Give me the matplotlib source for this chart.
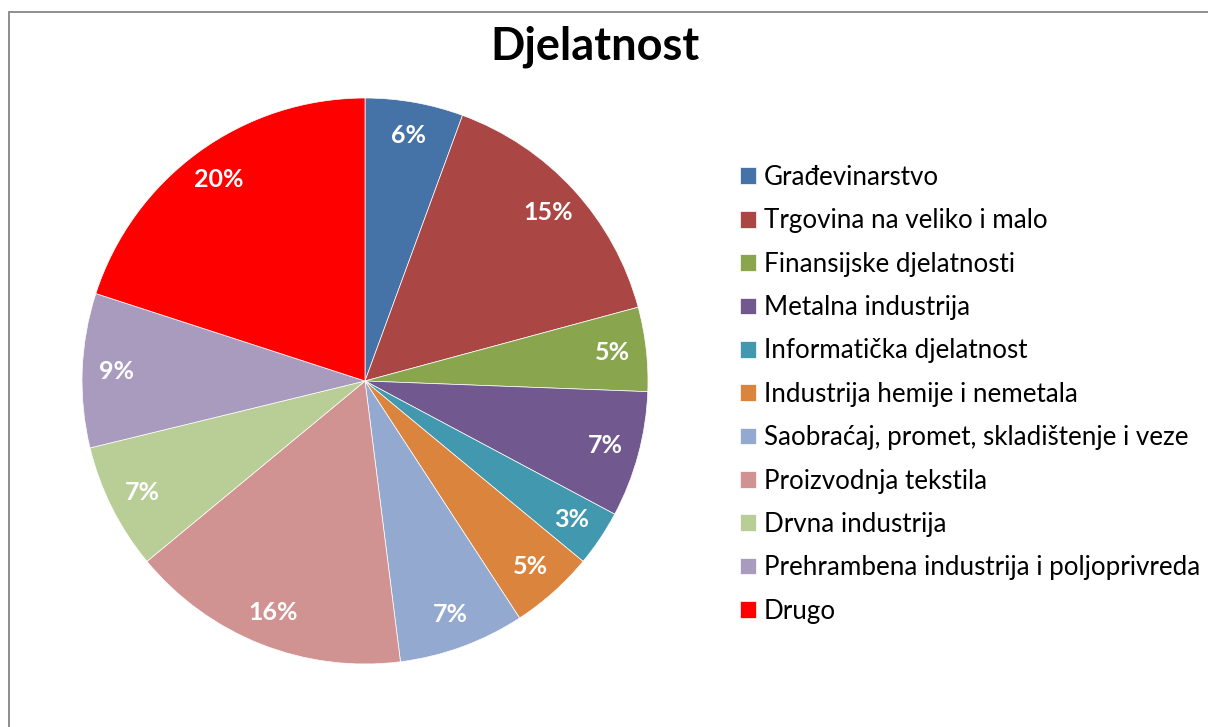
import matplotlib
matplotlib.use("Agg")
import matplotlib.pyplot as plt
from matplotlib.patches import Rectangle

categories = ["Građevinarstvo", "Trgovina na veliko i malo", "Finansijske djelatnosti",
              "Metalna industrija", "Informatička djelatnost", "Industrija hemije i nemetala",
              "Saobraćaj, promet, skladištenje i veze", "Proizvodnja tekstila",
              "Drvna industrija", "Prehrambena industrija i poljoprivreda", "Drugo"]
values = [5.6, 15.2, 4.8, 7.2, 3.2, 4.8, 7.2, 16.0, 7.2, 8.8, 20.0]
colors = ["#4572A7", "#AA4643", "#89A54E", "#71588F", "#4198AF", "#DB843D",
          "#93A9CF", "#D19392", "#B9CD96", "#A99BBD", "#FF0000"]
title = "Djelatnost"

plt.rcParams['font.family'] = ['Lato', 'DejaVu Sans']

W, H = 1208, 727
fig = plt.figure(figsize=(W / 100, H / 100), dpi=100)
ax = fig.add_axes([0, 0, 1, 1])

cx, cy, r = 365, H - 381, 283
wedges, texts, autotexts = ax.pie(values, colors=colors, startangle=90, counterclock=False,
                                  center=(cx, cy), radius=r, autopct='%1.0f%%',
                                  pctdistance=0.88, frame=True,
                                  wedgeprops=dict(edgecolor='white', linewidth=0.5),
                                  textprops=dict(color='white', fontsize=18, fontweight='bold'))
ax.set_xlim(0, W)
ax.set_ylim(0, H)
ax.set_aspect('equal')
ax.axis('off')

# chart border (extends beyond right/bottom edges)
ax.add_patch(Rectangle((8.5, -20), W + 40, H - 11.5 + 20, fill=False,
                       edgecolor="#868686", linewidth=1.3))

ax.text(595, H - 47, title, ha='center', va='center', fontsize=32.5, fontweight='bold', color='black')

fig.legend(wedges, categories, loc='upper left', bbox_to_anchor=(740 / W, 1 - 165 / H),
           frameon=False, fontsize=18.75, handlelength=0.615, handleheight=0.615,
           labelspacing=0.705, handletextpad=0.3, borderpad=0, borderaxespad=0)

fig.savefig("out.png", dpi=100)
